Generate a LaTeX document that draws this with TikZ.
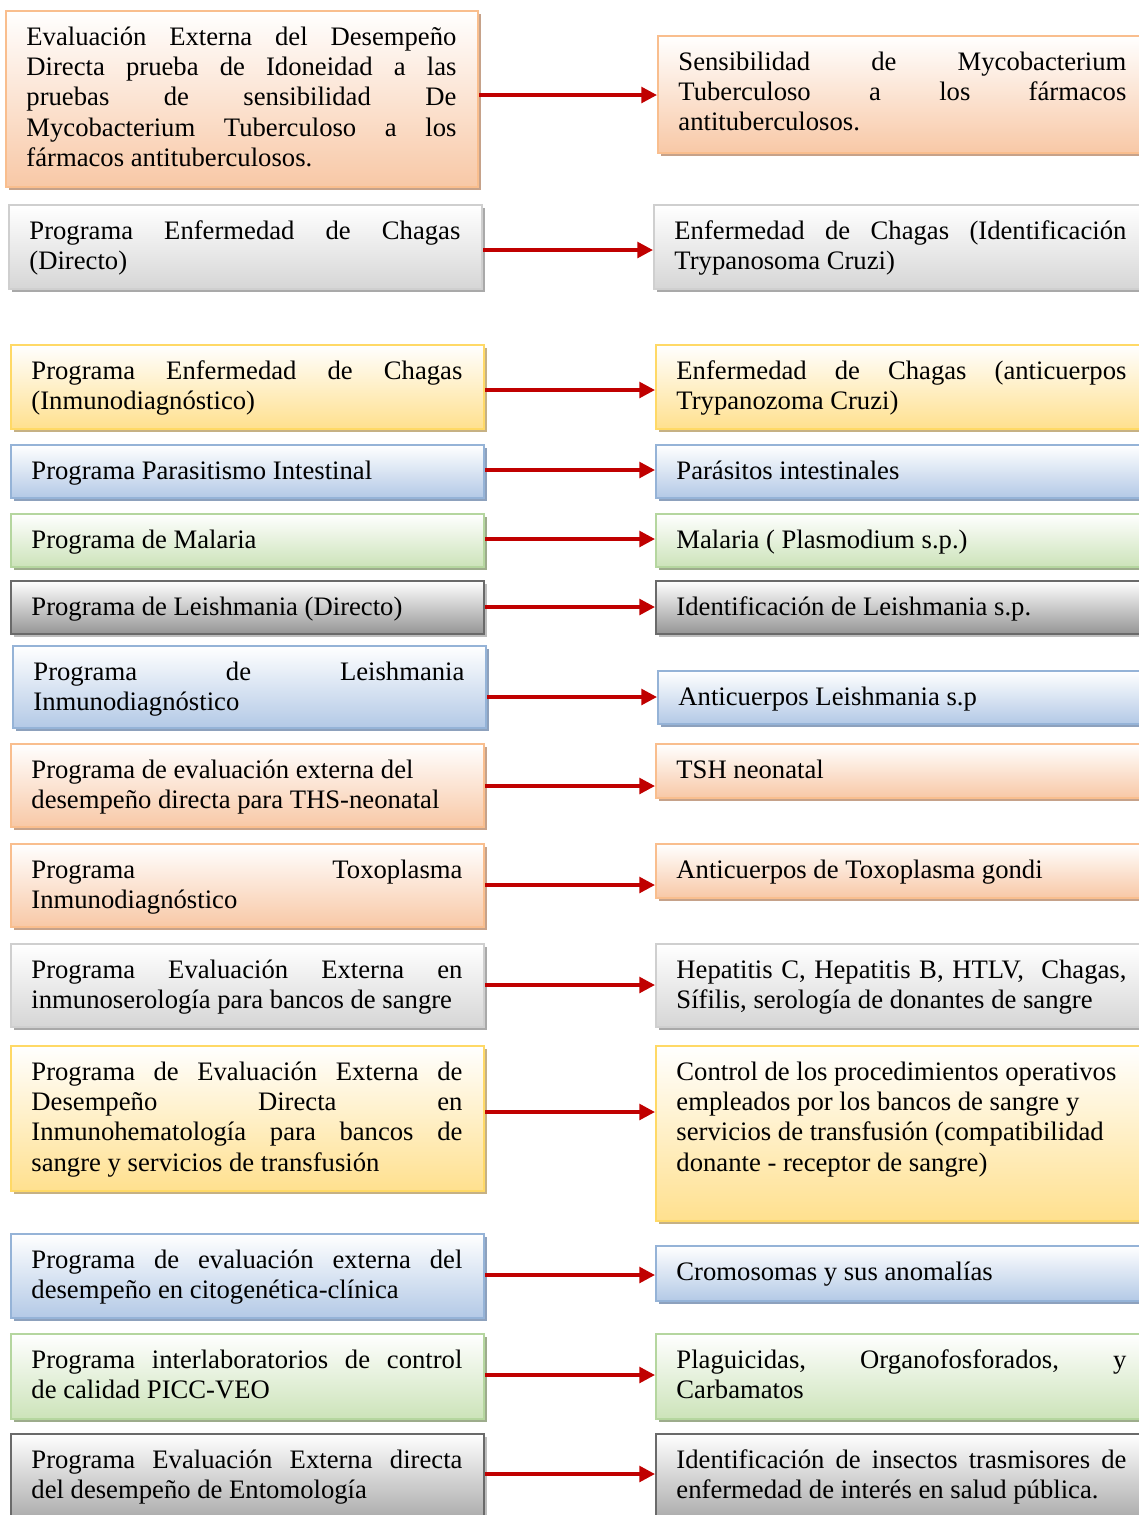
\documentclass[tikz,border=0pt]{standalone}
\usepackage{fontspec}
\setmainfont{Liberation Serif}
\usetikzlibrary{arrows.meta}

% palettes: frame line, bottom of the gradient, drop shadow
\definecolor{orangeLine}{HTML}{F9BE8E}
\definecolor{orangeFill}{HTML}{F8C8A6}
\definecolor{orangeShadow}{HTML}{C6A28A}
\definecolor{greyLine}{HTML}{CFCFCF}
\definecolor{greyFill}{HTML}{D6D6D6}
\definecolor{greyShadow}{HTML}{A9A9A9}
\definecolor{yellowLine}{HTML}{FFD966}
\definecolor{yellowFill}{HTML}{FFE08E}
\definecolor{yellowShadow}{HTML}{C6B184}
\definecolor{blueLine}{HTML}{95B3D7}
\definecolor{blueFill}{HTML}{B3C9E6}
\definecolor{blueShadow}{HTML}{8DA1BD}
\definecolor{greenLine}{HTML}{B5D69F}
\definecolor{greenFill}{HTML}{CCE3B9}
\definecolor{greenShadow}{HTML}{9DAC8C}
\definecolor{darkLine}{HTML}{6A6A6A}
\definecolor{darkFill}{HTML}{959595}
\definecolor{darkShadow}{HTML}{BDBDBD}
\definecolor{linkRed}{HTML}{C00000}

\tikzset{
  panel/.style={draw=#1Line, line width=0.9pt, top color=white, bottom color=#1Fill,
    rectangle, inner sep=0pt, anchor=north west},
  drop/.style={fill=#1Shadow},
  txt/.style={inner sep=0pt, anchor=base west, align=justify,
    font=\fontsize{12}{13.7}\selectfont,
    execute at begin node={\tolerance=10000\hbadness=10000\hyphenpenalty=10000}},
  link/.style={draw=linkRed, line width=1.6pt,
    -{Triangle[length=7pt,width=7pt]}},
}

% #1 name, #2 palette, #3 left, #4 top, #5 right, #6 bottom, #7 text (pixel units)
\newcommand\progbox[7]{%
  \fill[drop=#2] (#3+4,#4+4) rectangle (#5+4,#6+4);
  \node[panel=#2, minimum width={(#5-#3)*0.45pt}, minimum height={(#6-#4)*0.45pt}]
    (#1) at (#3,#4) {};
  \node[txt, text width={(#5-#3-42)*0.45pt}] (#1t) at (#3+21,#4+35) {#7};
}

\begin{document}
\begin{tikzpicture}[x=0.45pt, y=-0.45pt]
\clip (0,0) rectangle (1139,1515);

% left column: programmes
\progbox{L1}{orange}{5}{10}{477}{186}{Evaluación Externa del Desempeño\linebreak Directa prueba de Idoneidad a las\linebreak pruebas de sensibilidad De\linebreak Mycobacterium Tuberculoso a los\linebreak fármacos antituberculosos.}
\progbox{L2}{grey}{8}{204}{481}{288}{Programa Enfermedad de Chagas\linebreak (Directo)}
\progbox{L3}{yellow}{10}{344}{483}{428}{Programa Enfermedad de Chagas\linebreak (Inmunodiagnóstico)}
\progbox{L4}{blue}{10}{444}{483}{497}{Programa Parasitismo Intestinal}
\progbox{L5}{green}{10}{513}{483}{566}{Programa de Malaria}
\progbox{L6}{dark}{10}{580}{483}{633}{Programa de Leishmania (Directo)}
\progbox{L7}{blue}{12}{645}{485}{727}{Programa de Leishmania\linebreak Inmunodiagnóstico}
\progbox{L8}{orange}{10}{743}{483}{826}{Programa de evaluación externa del\newline desempeño directa para THS-neonatal}
\progbox{L9}{orange}{10}{843}{483}{926}{Programa Toxoplasma\linebreak Inmunodiagnóstico}
\progbox{L10}{grey}{10}{943}{483}{1026}{Programa Evaluación Externa en\linebreak inmunoserología para bancos de sangre}
\progbox{L11}{yellow}{10}{1045}{483}{1190}{Programa de Evaluación Externa de\linebreak Desempeño Directa en\linebreak Inmunohematología para bancos de\linebreak sangre y servicios de transfusión}
\progbox{L12}{blue}{10}{1233}{483}{1317}{Programa de evaluación externa del\linebreak desempeño en citogenética-clínica}
\progbox{L13}{green}{10}{1333}{483}{1418}{Programa interlaboratorios de control\linebreak de calidad PICC-VEO}
\progbox{L14}{dark}{10}{1433}{483}{1540}{Programa Evaluación Externa directa\linebreak del desempeño de Entomología}

% right column: what each programme evaluates
\progbox{R1}{orange}{657}{35}{1147}{152}{Sensibilidad de Mycobacterium\linebreak Tuberculoso a los fármacos\linebreak antituberculosos.}
\progbox{R2}{grey}{653}{204}{1147}{288}{Enfermedad de Chagas (Identificación\linebreak Trypanosoma Cruzi)}
\progbox{R3}{yellow}{655}{344}{1147}{428}{Enfermedad de Chagas (anticuerpos\linebreak Trypanozoma Cruzi)}
\progbox{R4}{blue}{655}{444}{1147}{497}{Parásitos intestinales}
\progbox{R5}{green}{655}{513}{1147}{566}{Malaria ( Plasmodium s.p.)}
\progbox{R6}{dark}{655}{580}{1147}{633}{Identificación de Leishmania s.p.}
\progbox{R7}{blue}{657}{670}{1147}{723}{Anticuerpos Leishmania s.p}
\progbox{R8}{orange}{655}{743}{1147}{797}{TSH neonatal}
\progbox{R9}{orange}{655}{843}{1147}{897}{Anticuerpos de Toxoplasma gondi}
\progbox{R10}{grey}{655}{943}{1147}{1026}{Hepatitis C, Hepatitis B, HTLV,\ \ Chagas,\linebreak Sífilis, serología de donantes de sangre}
\progbox{R11}{yellow}{655}{1045}{1147}{1220}{Control de los procedimientos operativos\newline empleados por los bancos de sangre y\newline servicios de transfusión (compatibilidad\newline donante - receptor de sangre)}
\progbox{R12}{blue}{655}{1245}{1147}{1300}{Cromosomas y sus anomalías}
\progbox{R13}{green}{655}{1333}{1147}{1418}{Plaguicidas, Organofosforados, y\linebreak Carbamatos}
\progbox{R14}{dark}{655}{1433}{1147}{1540}{Identificación de insectos trasmisores de\linebreak enfermedad de interés en salud pública.}

% connectors
\foreach \i/\h in {1/95, 2/250, 3/390, 4/470, 5/539, 6/607, 7/697, 8/786,
                   9/885, 10/985, 11/1112, 12/1275, 13/1375, 14/1474} {
  \coordinate (h\i) at (0,\h);
  \draw[link] (L\i.east |- h\i) -- (R\i.west |- h\i);
}
\end{tikzpicture}
\end{document}
